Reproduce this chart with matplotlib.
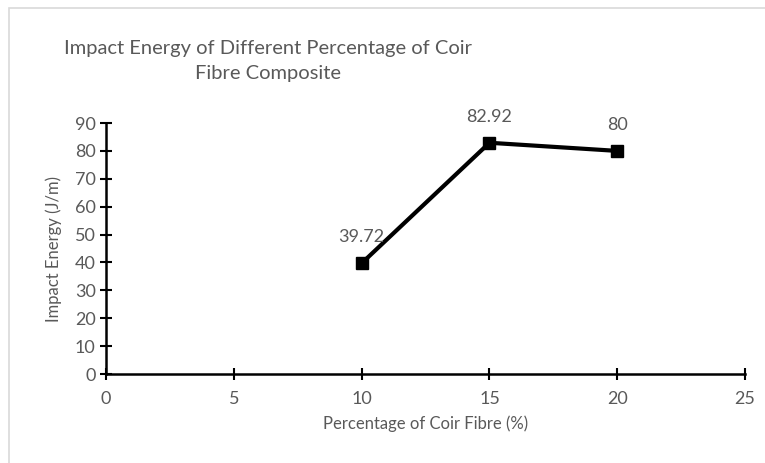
import matplotlib.pyplot as plt
from matplotlib.patches import Rectangle

fibre_pct = [10, 15, 20]
impact_energy = [39.72, 82.92, 80]
value_labels = ["39.72", "82.92", "80"]

plt.rcParams['font.family'] = ['Lato', 'DejaVu Sans']
grey = "#595959"

fig = plt.figure(figsize=(7.65, 4.63), dpi=100)
ax = fig.add_axes([0.1386, 0.1922, 0.8354, 0.5421])

# chart border (Excel style)
fig.patches.append(Rectangle((9 / 765, -0.1), 1.2, 1 - 8 / 463 + 0.1, transform=fig.transFigure,
                             fill=False, edgecolor="#d9d9d9", linewidth=1.2))

ax.plot(fibre_pct, impact_energy, color="black", linewidth=3, marker="s", markersize=8)
for x, y, lab in zip(fibre_pct, impact_energy, value_labels):
    ax.annotate(lab, (x, y), xytext=(0, 13), textcoords="offset points",
                ha="center", va="bottom", fontsize=13, color=grey)

ax.set_xlim(0, 25)
ax.set_ylim(0, 90)
ax.set_xticks(range(0, 26, 5))
ax.set_yticks(range(0, 91, 10))
ax.tick_params(direction="inout", length=8, width=1.5, colors="black", labelcolor=grey, labelsize=13)
ax.tick_params(axis="x", pad=8)
for s in ["top", "right"]:
    ax.spines[s].set_visible(False)
for s in ["left", "bottom"]:
    ax.spines[s].set_linewidth(1.8)

ax.set_xlabel("Percentage of Coir Fibre (%)", fontsize=12, color=grey, labelpad=6)
ax.set_ylabel("Impact Energy (J/m)", fontsize=12, color=grey, labelpad=9)

fig.text(268 / 765, 1 - 61 / 463, "Impact Energy of Different Percentage of Coir\nFibre Composite",
         ha="center", va="center", fontsize=14.5, color=grey, linespacing=1.6)

fig.savefig("out.png", dpi=100)
